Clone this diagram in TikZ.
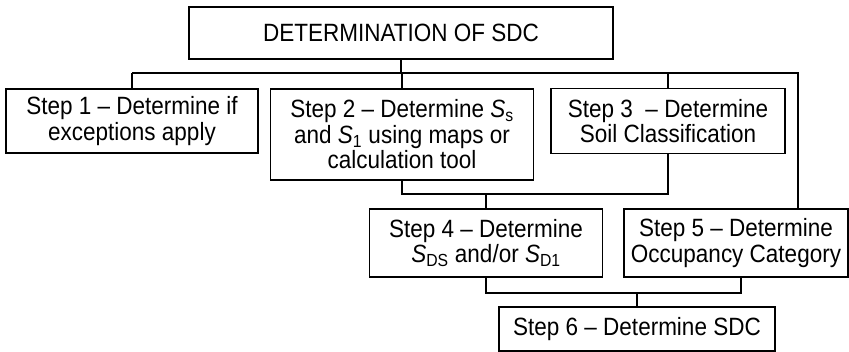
\documentclass[tikz,border=0pt]{standalone}
\usepackage{fontspec}
\setmainfont{Liberation Sans}[FakeStretch=0.9]
\usetikzlibrary{positioning,calc}

\begin{document}
\begin{tikzpicture}[
  x=1pt, y=-1pt,
  font=\fontsize{25}{25.5}\selectfont,
  box/.style={draw, line width=1.1pt, align=center, inner sep=1pt, fill=white},
  link/.style={line width=1.1pt}
]
\useasboundingbox (0,0) rectangle (849,352);

\node[box, minimum width=424pt, minimum height=52pt] (title) at (401,33) {DETERMINATION OF SDC};

\node[box, minimum width=252pt, minimum height=64pt] (except) at (132,121) {Step 1 -- Determine if\\exceptions apply};
\node[box, minimum width=263pt, minimum height=91pt] (accel) at (402,134.5) {Step 2 -- Determine \textit{S}\textsubscript{s}\\and \textit{S}\textsubscript{1} using maps or\\calculation tool};
\node[box, minimum width=234pt, minimum height=65pt] (soil) at (668,121) {Step 3~ -- Determine\\Soil Classification};

\node[box, minimum width=233pt, minimum height=68pt] (design) at (486,243) {Step 4 -- Determine\\\textit{S}\textsubscript{DS} and/or \textit{S}\textsubscript{D1}};
\node[box, minimum width=224pt, minimum height=68pt] (occup) at (736,243) {Step 5 -- Determine\\Occupancy Category};

\node[box, minimum width=276pt, minimum height=44pt] (sdc) at (637,329) {Step 6 -- Determine SDC};

\coordinate (rtap) at (798,73);
\coordinate (midjoin) at (486,194);
\coordinate (lowjoin) at (637,293);

\draw[link] (title.south) -- (title.south |- rtap);
\draw[link] (except.north |- rtap) -- (rtap) -- (rtap |- occup.north);
\foreach \s in {except,accel,soil} {
  \draw[link] (\s.north) -- (\s.north |- rtap);
}

\draw[link] (accel.south) |- (midjoin) -| (soil.south);
\draw[link] (midjoin) -- (design.north);

\draw[link] (design.south) |- (lowjoin) -| ([xshift=5pt]occup.south);
\draw[link] (lowjoin) -- (sdc.north);

\end{tikzpicture}
\end{document}
